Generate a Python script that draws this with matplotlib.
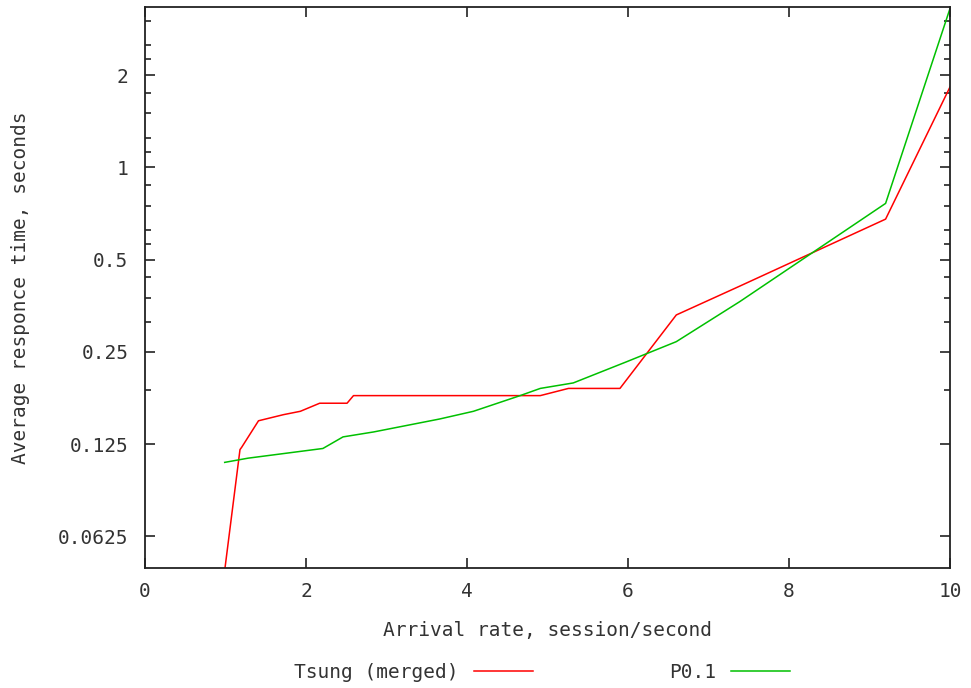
import matplotlib
matplotlib.use("Agg")
import matplotlib.pyplot as plt
from matplotlib.ticker import FixedLocator, FixedFormatter, NullFormatter

# ---- data ----
tsung_x = [0.97, 1.18, 1.20, 1.41, 1.72, 1.93, 2.17, 2.51, 2.59, 4.91, 5.26, 5.90, 6.60, 7.39, 9.20, 10.0]
tsung_y = [0.044, 0.120, 0.122, 0.149, 0.156, 0.160, 0.170, 0.170, 0.180, 0.180, 0.190, 0.190, 0.330, 0.410, 0.678, 1.83]

p01_x = [0.99, 1.28, 2.21, 2.46, 2.84, 3.66, 4.08, 4.66, 4.91, 5.32, 5.98, 6.60, 7.39, 9.20, 10.0]
p01_y = [0.109, 0.1125, 0.121, 0.132, 0.137, 0.151, 0.160, 0.180, 0.190, 0.198, 0.232, 0.270, 0.365, 0.763, 3.30]

y_major = [0.0625, 0.125, 0.25, 0.5, 1, 2]
y_major_labels = ["0.0625", "0.125", "0.25", "0.5", "1", "2"]
y_minor = [0.1875, 0.3125, 0.375, 0.4375, 0.5625, 0.625, 0.75, 0.875,
           1.125, 1.25, 1.5, 1.75, 2.25, 2.5, 3.0]
x_ticks = [0, 2, 4, 6, 8, 10]

series_labels = ["Tsung (merged)", "P0.1"]
xlabel = "Arrival rate, session/second"
ylabel = "Average responce time, seconds"

FONT = "DejaVu Sans Mono"
FS = 14
TXT = "#333333"

fig = plt.figure(figsize=(9.71, 6.88), dpi=100)
ax = fig.add_axes([145/971, 1-567.7/688, (950-145)/971, (567.7-7.3)/688])

ax.plot(tsung_x, tsung_y, color="#ff0000", lw=1.1, label=series_labels[0])
ax.plot(p01_x, p01_y, color="#00c000", lw=1.1, label=series_labels[1])

ax.set_yscale("log", base=2)
ax.set_xlim(0, 10)
ax.set_ylim(0.0494, 3.33)

ax.yaxis.set_major_locator(FixedLocator(y_major))
ax.yaxis.set_major_formatter(FixedFormatter(y_major_labels))
ax.yaxis.set_minor_locator(FixedLocator(y_minor))
ax.yaxis.set_minor_formatter(NullFormatter())
ax.set_xticks(x_ticks)
ax.set_xticklabels([str(t) for t in x_ticks])

ax.tick_params(which="both", direction="in", top=True, right=True, color="#222222")
ax.tick_params(which="major", length=7, width=1.2)
ax.tick_params(which="minor", length=4, width=1.2)
ax.tick_params(axis="y", which="major", pad=12)
ax.tick_params(axis="x", which="major", pad=10)
for lab in ax.get_xticklabels() + ax.get_yticklabels():
    lab.set_fontfamily(FONT)
    lab.set_fontsize(FS)
    lab.set_color(TXT)

for s in ax.spines.values():
    s.set_color("#222222")
    s.set_linewidth(1.3)

ax.set_xlabel(xlabel, fontfamily=FONT, fontsize=FS, color=TXT, labelpad=15)
ax.set_ylabel(ylabel, fontfamily=FONT, fontsize=FS, color=TXT, labelpad=20)

leg = ax.legend(loc="center", bbox_to_anchor=(542/971, 1-672/688), bbox_transform=fig.transFigure,
                ncol=2, frameon=False, markerfirst=False, handlelength=3.0,
                handletextpad=0.8, columnspacing=7.0,
                prop={"family": FONT, "size": FS})
for t in leg.get_texts():
    t.set_color(TXT)

fig.savefig("out.png", dpi=100)
